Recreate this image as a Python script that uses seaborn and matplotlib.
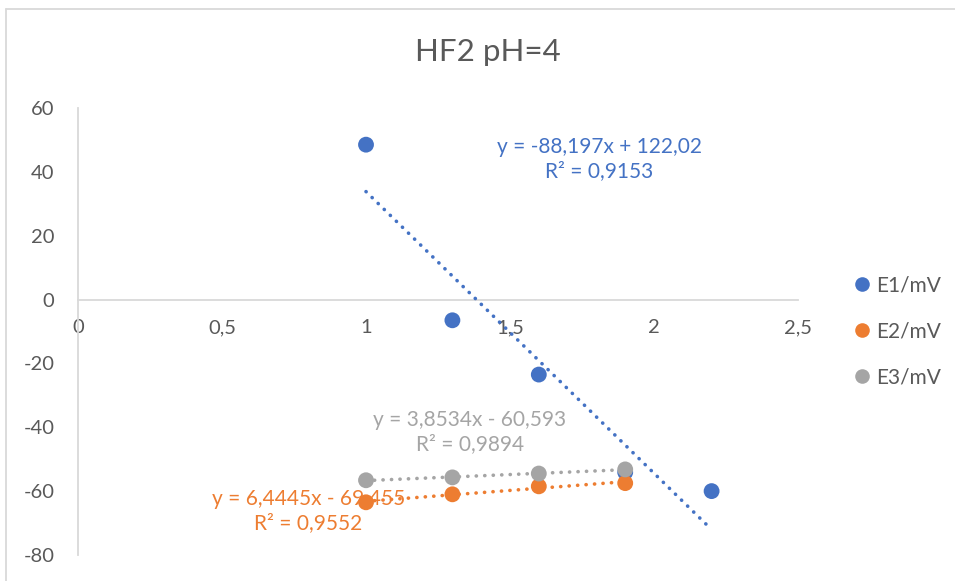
import numpy as np
import pandas as pd
import seaborn as sns
import matplotlib.pyplot as plt
from matplotlib.lines import Line2D

# data
x1 = [1.0, 1.3, 1.6, 1.9, 2.2]
e1 = [48.5, -6.5, -23.5, -54.1, -60.0]
x2 = [1.0, 1.3, 1.6, 1.9]
e2 = [-63.5, -61.0, -58.5, -57.5]
x3 = [1.0, 1.3, 1.6, 1.9]
e3 = [-56.6, -55.7, -54.5, -53.2]

series = ['E1/mV', 'E2/mV', 'E3/mV']
colors = ['#4472C4', '#ED7D31', '#A5A5A5']
equations = ['y = -88,197x + 122,02\nR² = 0,9153',
             'y = 6,4445x - 69,455\nR² = 0,9552',
             'y = 3,8534x - 60,593\nR² = 0,9894']
eq_pos = [(1.81, 44.0), (0.80, -66.2), (1.36, -41.5)]

xticks = [0, 0.5, 1, 1.5, 2, 2.5]
xticklabels = ['0', '0,5', '1', '1,5', '2', '2,5']
yticks = [-80, -60, -40, -20, 0, 20, 40, 60]

df = pd.concat([
    pd.DataFrame({'x': x1, 'y': e1, 'serie': series[0]}),
    pd.DataFrame({'x': x2, 'y': e2, 'serie': series[1]}),
    pd.DataFrame({'x': x3, 'y': e3, 'serie': series[2]}),
], ignore_index=True)

sns.set_style('white')
plt.rcParams['font.family'] = ['Lato', 'DejaVu Sans']
plt.rcParams['axes.unicode_minus'] = False
text_col = '#595959'

fig = plt.figure(figsize=(9.55, 5.81), dpi=100)
ax = fig.add_axes([0.0817, 0.0448, 0.7539, 0.7694])

# draw order: E1, E3, E2 (orange over grey as in the reference)
for i in [0, 2, 1]:
    sub = df[df['serie'] == series[i]]
    sns.scatterplot(data=sub, x='x', y='y', color=colors[i], s=130,
                    edgecolor='none', ax=ax, zorder=3 + i, legend=False)
for i in [0, 2, 1]:
    sub = df[df['serie'] == series[i]]
    sns.regplot(data=sub, x='x', y='y', scatter=False, ci=None, ax=ax,
                line_kws=dict(color=colors[i], lw=2.6, linestyle=(0, (0.05, 2.3)),
                              dash_capstyle='round', zorder=6))

for txt, (tx, ty), c in zip(equations, eq_pos, colors):
    ax.text(tx, ty, txt, color=c, fontsize=15, ha='center', va='center',
            multialignment='center', linespacing=1.3, zorder=7)

ax.set_xlim(0, 2.5)
ax.set_ylim(-80, 60)
ax.set_xticks(xticks)
ax.set_xticklabels(xticklabels)
ax.set_yticks(yticks)
ax.set_xlabel('')
ax.set_ylabel('')
ax.tick_params(length=0, labelsize=14.5, colors=text_col)
ax.tick_params(axis='x', pad=14)
ax.tick_params(axis='y', pad=17)

for s in ['top', 'right']:
    ax.spines[s].set_visible(False)
ax.spines['bottom'].set_position(('data', 0))
ax.spines['left'].set_position(('data', 0))
for s in ['bottom', 'left']:
    ax.spines[s].set_color('#D9D9D9')
    ax.spines[s].set_linewidth(1.3)

fig.text(0.511, 0.91, 'HF2 pH=4', fontsize=22.5, color=text_col, ha='center', va='center')

handles = [Line2D([], [], marker='o', linestyle='none', markersize=10.5,
                  markerfacecolor=c, markeredgecolor='none') for c in colors]
fig.legend(handles, series, loc='center left', bbox_to_anchor=(0.885, 0.43),
           frameon=False, fontsize=15, labelcolor=text_col, labelspacing=1.25,
           handlelength=0.6, handletextpad=0.4, borderpad=0)

# light chart-area border (left/top edges visible in the reference)
fig.add_artist(Line2D([0.0068, 0.0068], [0.0, 0.984], color='#D9D9D9', lw=1.3,
                      transform=fig.transFigure))
fig.add_artist(Line2D([0.0068, 1.0], [0.984, 0.984], color='#D9D9D9', lw=1.3,
                      transform=fig.transFigure))

fig.savefig('out.png', dpi=100, facecolor='white')
